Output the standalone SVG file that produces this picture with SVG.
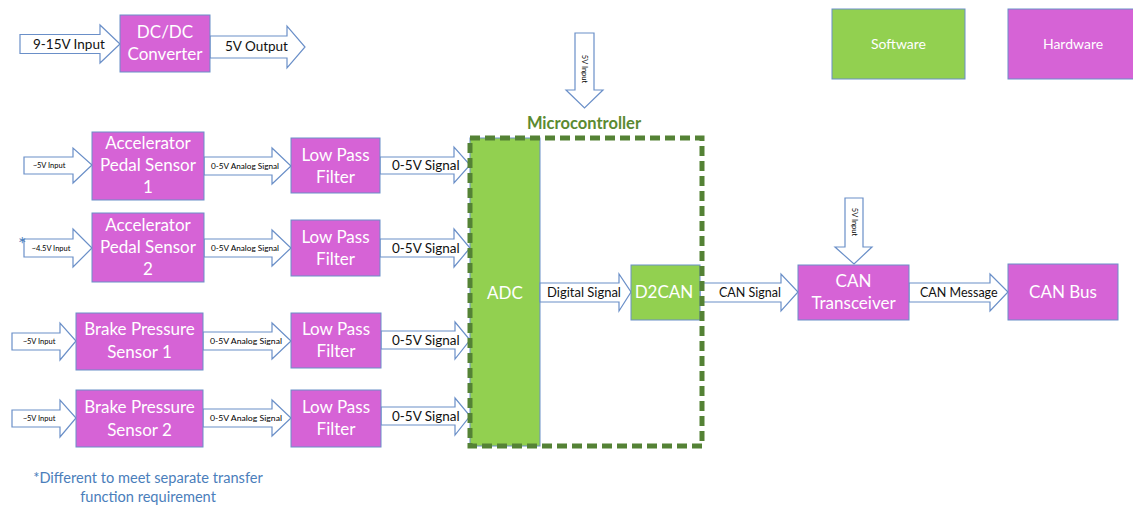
<svg xmlns="http://www.w3.org/2000/svg" width="1133" height="506" viewBox="0 0 1133 506">
<style>
.hw{fill:#D663D6;stroke:#6A8FC8;stroke-width:1}
.sw{fill:#92D050;stroke:#6A8FC8;stroke-width:1}
.arr{fill:#FFFFFF;stroke:#6A8FC8;stroke-width:1.2;stroke-linejoin:miter}
.bt{font-family:Lato,"Open Sans",sans-serif;fill:#FFFFFF;text-anchor:middle;font-size:17px}
.at{font-family:Lato,"Open Sans",sans-serif;fill:#111111}
.sm{font-family:Lato,"Open Sans",sans-serif;fill:#000000;font-size:7.5px}
</style>
<rect width="1133" height="506" fill="#FFFFFF"/>

<g id="adc">
<rect class="sw" x="470" y="138" width="70" height="308"/>
<text class="bt" x="505" y="299">ADC</text>
</g>

<g id="connectors">
<polygon class="arr" points="20,34.5 100,34.5 100,25 120,44 100,63 100,53.5 20,53.5"/>
<text class="at" x="33" y="49" font-size="13.5">9-15V Input</text>
<polygon class="arr" points="210,36 287,36 287,26 305,47 287,68 287,58 210,58"/>
<text class="at" x="225" y="51" font-size="13.5">5V Output</text>
<polygon class="arr" points="575,33 594,33 594,90 603,90 584.5,108 566,90 575,90"/>
<text class="sm" transform="translate(581.5,69) rotate(90)" text-anchor="middle" font-size="7">5V Input</text>
<polygon class="arr" points="845,198 863,198 863,247 872,247 854,264 835,247 845,247"/>
<text class="sm" transform="translate(851.5,222) rotate(90)" text-anchor="middle" font-size="7">5V Input</text>

<polygon class="arr" points="24,157 73,157 73,148 92,165 73,183 73,174 24,174"/>
<text class="sm" x="49" y="168" text-anchor="middle">~5V Input</text>
<polygon class="arr" points="204,157 272,157 272,148 291,166 272,184 272,175 204,175"/>
<text class="sm" x="211" y="169" textLength="68" lengthAdjust="spacingAndGlyphs">0-5V Analog Signal</text>
<polygon class="arr" points="380,157 454,157 454,147 470,165 454,183 454,174 380,174"/>
<text class="at" x="392" y="170" font-size="13.5">0-5V Signal</text>

<polygon class="arr" points="24,239 73,239 73,229 92,248 73,267 73,257 24,257"/>
<text class="sm" x="51" y="251" text-anchor="middle">~4.5V Input</text>
<polygon class="arr" points="204,239 272,239 272,230 291,248 272,266 272,257 204,257"/>
<text class="sm" x="211" y="251" textLength="68" lengthAdjust="spacingAndGlyphs">0-5V Analog Signal</text>
<polygon class="arr" points="380,239 454,239 454,229 470,248 454,267 454,257 380,257"/>
<text class="at" x="392" y="253" font-size="13.5">0-5V Signal</text>

<polygon class="arr" points="12,333 60,333 60,323 76,341 60,360 60,350 12,350"/>
<text class="sm" x="39" y="344" text-anchor="middle">~5V Input</text>
<polygon class="arr" points="203,332 272,332 272,323 291,341 272,359 272,350 203,350"/>
<text class="sm" x="210" y="344" textLength="72" lengthAdjust="spacingAndGlyphs">0-5V Analog Signal</text>
<polygon class="arr" points="381,331 455,331 455,322 470,340 455,359 455,349 381,349"/>
<text class="at" x="392" y="345" font-size="13.5">0-5V Signal</text>

<polygon class="arr" points="12,410 60,410 60,400 76,418 60,437 60,427 12,427"/>
<text class="sm" x="39" y="421" text-anchor="middle">~5V Input</text>
<polygon class="arr" points="203,409 272,409 272,400 291,418 272,436 272,427 203,427"/>
<text class="sm" x="210" y="421" textLength="72" lengthAdjust="spacingAndGlyphs">0-5V Analog Signal</text>
<polygon class="arr" points="381,407 455,407 455,398 470,416 455,435 455,425 381,425"/>
<text class="at" x="392" y="421" font-size="13.5">0-5V Signal</text>

<polygon class="arr" points="540,283 619,283 619,274 631,292 619,311 619,302 540,302"/>
<text class="at" x="547" y="297" font-size="13">Digital Signal</text>
<polygon class="arr" points="700,283 781,283 781,274 798,292 781,311 781,302 700,302"/>
<text class="at" x="719" y="297" font-size="12.5">CAN Signal</text>
<polygon class="arr" points="909,283 990,283 990,274 1008,292 990,311 990,302 909,302"/>
<text class="at" x="920" y="297" font-size="12.5">CAN Message</text>
</g>

<g id="dcdc">
<rect class="hw" x="120" y="15" width="90" height="57"/>
<text class="bt" x="165" y="38">DC/DC</text>
<text class="bt" x="165" y="60">Converter</text>
</g>

<g id="aps1">
<rect class="hw" x="92" y="132" width="112" height="68"/>
<text class="bt" x="148" y="149">Accelerator</text>
<text class="bt" x="148" y="171">Pedal Sensor</text>
<text class="bt" x="148" y="193">1</text>
</g>
<g id="aps2">
<rect class="hw" x="92" y="213" width="112" height="69"/>
<text class="bt" x="148" y="231">Accelerator</text>
<text class="bt" x="148" y="253">Pedal Sensor</text>
<text class="bt" x="148" y="275">2</text>
</g>
<g id="bps1">
<rect class="hw" x="76" y="313" width="127" height="57"/>
<text class="bt" x="139.5" y="335">Brake Pressure</text>
<text class="bt" x="139.5" y="358">Sensor 1</text>
</g>
<g id="bps2">
<rect class="hw" x="76" y="390" width="127" height="57"/>
<text class="bt" x="139.5" y="413">Brake Pressure</text>
<text class="bt" x="139.5" y="436">Sensor 2</text>
</g>

<g id="lpf1">
<rect class="hw" x="291" y="138" width="89" height="55"/>
<text class="bt" x="335.5" y="161">Low Pass</text>
<text class="bt" x="335.5" y="183">Filter</text>
</g>
<g id="lpf2">
<rect class="hw" x="291" y="220" width="89" height="56"/>
<text class="bt" x="335.5" y="243">Low Pass</text>
<text class="bt" x="335.5" y="265">Filter</text>
</g>
<g id="lpf3">
<rect class="hw" x="291" y="313" width="90" height="55"/>
<text class="bt" x="336" y="335">Low Pass</text>
<text class="bt" x="336" y="357">Filter</text>
</g>
<g id="lpf4">
<rect class="hw" x="291" y="390" width="90" height="57"/>
<text class="bt" x="336" y="413">Low Pass</text>
<text class="bt" x="336" y="435">Filter</text>
</g>

<g id="d2can">
<rect class="sw" x="631" y="265" width="69" height="55"/>
<text class="bt" x="664" y="298">D2CAN</text>
</g>

<g id="microcontroller">
<rect x="470" y="138" width="232" height="308" fill="none" stroke="#548235" stroke-width="5" stroke-dasharray="10 5"/>
<text x="584" y="129" font-family="Lato,'Open Sans',sans-serif" font-weight="bold" font-size="16.5" fill="#5B8A31" text-anchor="middle">Microcontroller</text>
</g>

<g id="can_transceiver">
<rect class="hw" x="798" y="265" width="111" height="55"/>
<text class="bt" x="853.5" y="287">CAN</text>
<text class="bt" x="853.5" y="309">Transceiver</text>
</g>
<g id="can_bus">
<rect class="hw" x="1008" y="264" width="110" height="56"/>
<text class="bt" x="1063" y="298">CAN Bus</text>
</g>

<g id="legend_software">
<rect class="sw" x="832" y="9" width="133" height="70" stroke="#C5D3E6"/>
<text class="bt" x="898.5" y="49" font-size="14" style="font-size:14px">Software</text>
</g>
<g id="legend_hardware">
<rect class="hw" x="1008" y="9" width="130" height="70" stroke="#C5D3E6"/>
<text class="bt" x="1073" y="49" style="font-size:14px">Hardware</text>
</g>

<g id="footnote">
<text x="18" y="251" font-family="Lato,'Open Sans',sans-serif" font-size="20" fill="#4A7EBB">*</text>
<text x="148" y="483" font-family="Lato,'Open Sans',sans-serif" font-size="14.6" fill="#4A7EBB" text-anchor="middle">*Different to meet separate transfer</text>
<text x="148" y="502" font-family="Lato,'Open Sans',sans-serif" font-size="14.6" fill="#4A7EBB" text-anchor="middle">function requirement</text>
</g>
</svg>
